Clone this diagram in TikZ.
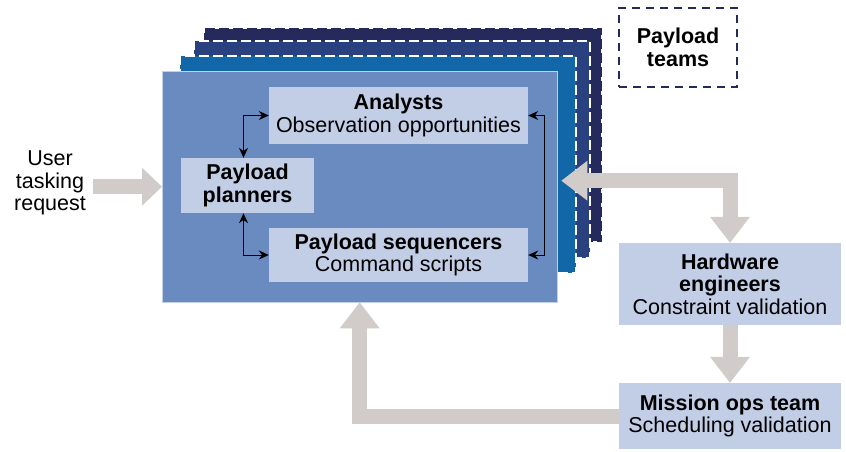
\documentclass[tikz,border=0pt]{standalone}
\usepackage{fontspec}
\setmainfont{Liberation Sans}
\usepackage{xcolor}
\usetikzlibrary{arrows.meta, positioning}
\definecolor{navyback}{HTML}{252A5C}
\definecolor{navymid}{HTML}{29427F}
\definecolor{bluemid}{HTML}{1167A8}
\definecolor{bluemain}{HTML}{6A8BC0}
\definecolor{boxlight}{HTML}{C2CDE6}
\definecolor{flowgray}{HTML}{D1CCC9}
\def\tsz{\fontsize{21.5}{22.5}\selectfont}
\def\bigtip{Triangle[width=40pt,length=26pt,line width=0pt]}

\begin{document}
\begin{tikzpicture}[x=1pt,y=-1pt,
  every node/.style={font=\tsz, align=center, inner sep=0pt},
  layer/.style={anchor=north west, minimum width=396pt, minimum height=217pt, line width=1.5pt, dash pattern=on 10pt off 4pt},
  teambox/.style={fill=boxlight, minimum width=259pt},
  flow/.style={draw=flowgray, line width=15pt, -{\bigtip}},
  link/.style={line width=1pt, {Stealth[length=10pt,width=9pt]}-{Stealth[length=10pt,width=9pt]}}]
\useasboundingbox (0,0) rectangle (846,451);
% stacked team layers
\node[layer, fill=navyback, draw=navyback, minimum height=212pt] (stackA) at (204,28) {};
\node[layer, fill=navymid, draw=white] (stackB) at (193,40) {};
\node[layer, fill=bluemid, draw=white] (stackC) at (179,55) {};
\node[anchor=north west, fill=bluemain, draw=white!60!bluemain, minimum width=395pt, minimum height=231pt] (main) at (162,71) {};
\node[teambox, minimum height=57pt] (analysts) at (398.5,115.5) {\textbf{Analysts}\\Observation opportunities};
\node[fill=boxlight, minimum width=133pt, minimum height=55pt] (planners) at (247.5,185.5) {\textbf{Payload}\\\textbf{planners}};
\node[teambox, minimum height=54pt] (sequencers) at (398.5,255) {\textbf{Payload sequencers}\\Command scripts};
\node[draw=navyback, line width=2pt, dash pattern=on 8pt off 6pt, minimum width=118pt, minimum height=79pt] (teams) at (678,47.5) {\textbf{Payload}\\\textbf{teams}};
\node[fill=boxlight, minimum width=222pt, minimum height=82pt] (hardware) at (730,284) {\textbf{Hardware}\\\textbf{engineers}\\Constraint validation};
\node[fill=boxlight, minimum width=222pt, minimum height=66pt] (mission) at (730,416) {\textbf{Mission ops team}\\Scheduling validation};
\node (user) at (50,183) {User\\tasking\\request};
% inner links
\draw[link] ([xshift=-4pt]planners.north) |- (analysts.west);
\draw[link] ([xshift=-4pt]planners.south) |- (sequencers.west);
\draw[link] (analysts.east) -- ++(16,0) |- (sequencers.east);
% big gray flows
\draw[flow, -{Triangle[width=38pt,length=20pt,line width=0pt]}] ([xshift=7pt]user.east |- main.west) -- (main.west);
\draw[flow, {\bigtip}-{\bigtip}] ([shift={(4,-6)}]main.east) -| (hardware.north);
\draw[flow] (hardware.south) -- (mission.north);
\draw[flow] (mission.west) -| (main.south);
\end{tikzpicture}
\end{document}
